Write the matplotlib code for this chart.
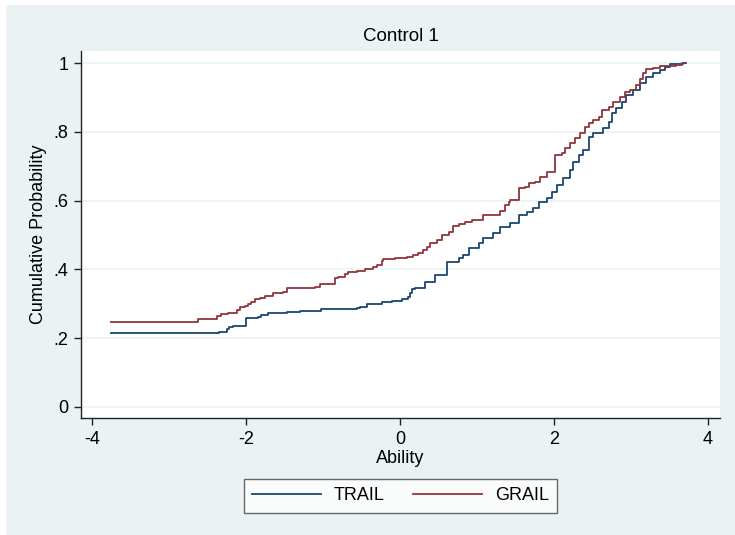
import matplotlib
matplotlib.use("Agg")
import matplotlib.pyplot as plt
from matplotlib.patches import Rectangle

plt.rcParams['font.family'] = ['Liberation Sans', 'DejaVu Sans']

title = "Control 1"
xlabel = "Ability"
ylabel = "Cumulative Probability"
xticks = [-4, -2, 0, 2, 4]
yticks = [0, 0.2, 0.4, 0.6, 0.8, 1.0]
ytick_labels = ["0", ".2", ".4", ".6", ".8", "1"]

trail_x = [-3.75, -2.35, -2.25, -2.22, -2.17, -2.00, -1.84, -1.80, -1.71, -1.47, -1.30,
           -1.02, -0.56, -0.52, -0.43, -0.24, -0.11, 0.02, 0.11, 0.13, 0.16, 0.19,
           0.32, 0.45, 0.61, 0.76, 0.82, 0.89, 1.02, 1.08, 1.21, 1.30, 1.43, 1.54,
           1.65, 1.73, 1.80, 1.91, 1.97, 2.04, 2.12, 2.21, 2.25, 2.32, 2.38, 2.45,
           2.51, 2.64, 2.71, 2.75, 2.81, 2.88, 2.94, 3.03, 3.12, 3.20, 3.29, 3.38,
           3.44, 3.51, 3.68, 3.71]
trail_y = [0.215, 0.219, 0.226, 0.233, 0.235, 0.258, 0.262, 0.267, 0.272, 0.277, 0.280,
           0.284, 0.289, 0.292, 0.299, 0.304, 0.308, 0.313, 0.319, 0.331, 0.342, 0.345,
           0.364, 0.384, 0.422, 0.432, 0.442, 0.461, 0.476, 0.490, 0.505, 0.524, 0.534, 0.558,
           0.568, 0.578, 0.597, 0.607, 0.626, 0.645, 0.665, 0.689, 0.713, 0.733, 0.747, 0.786,
           0.796, 0.810, 0.829, 0.854, 0.868, 0.887, 0.907, 0.922, 0.941, 0.960, 0.970, 0.980,
           0.989, 0.996, 1.000, 1.000]

grail_x = [-3.75, -2.62, -2.38, -2.32, -2.23, -2.12, -2.08, -2.01, -1.97, -1.93, -1.88,
           -1.82, -1.75, -1.65, -1.52, -1.47, -1.10, -1.04, -0.84, -0.80, -0.71, -0.67,
           -0.56, -0.45, -0.35, -0.30, -0.24, -0.22, -0.06, 0.09, 0.17, 0.24, 0.30, 0.35,
           0.39, 0.48, 0.54, 0.63, 0.69, 0.76, 0.84, 0.93, 1.08, 1.30, 1.36, 1.41, 1.43,
           1.54, 1.62, 1.67, 1.75, 1.82, 1.91, 2.01, 2.10, 2.14, 2.21, 2.27, 2.34, 2.40,
           2.45, 2.51, 2.58, 2.62, 2.71, 2.77, 2.86, 2.92, 2.99, 3.07, 3.12, 3.16, 3.20,
           3.29, 3.38, 3.59, 3.66, 3.69]
grail_y = [0.248, 0.256, 0.265, 0.270, 0.274, 0.282, 0.292, 0.294, 0.299, 0.305, 0.313,
           0.318, 0.323, 0.331, 0.335, 0.345, 0.350, 0.357, 0.374, 0.379, 0.386, 0.392,
           0.395, 0.401, 0.406, 0.413, 0.425, 0.429, 0.432, 0.437, 0.442, 0.447, 0.456, 0.466,
           0.476, 0.485, 0.500, 0.510, 0.527, 0.532, 0.537, 0.544, 0.558, 0.570, 0.587, 0.597, 0.602,
           0.636, 0.640, 0.650, 0.655, 0.669, 0.684, 0.733, 0.738, 0.752, 0.767, 0.781, 0.796, 0.815,
           0.825, 0.834, 0.844, 0.863, 0.873, 0.888, 0.902, 0.915, 0.922, 0.936, 0.955, 0.970, 0.983,
           0.986, 0.991, 0.994, 1.000, 1.000]

BG = "#EAF2F3"
fig = plt.figure(figsize=(7.35, 5.35), dpi=100, facecolor="white")
fig.patches.append(Rectangle((6/735, 0), 1 - 6/735, 1 - 5/535, transform=fig.transFigure,
                             facecolor=BG, edgecolor="none", zorder=-10))

ax = fig.add_axes([81/735, 1 - 418/535, (720 - 81)/735, (418 - 51)/535])
ax.set_facecolor("white")

ax.step(trail_x, trail_y, where="post", color="#1a476f", lw=1.3, label="TRAIL", zorder=3)
ax.step(grail_x, grail_y, where="post", color="#90353b", lw=1.3, label="GRAIL", zorder=3)

ax.set_xlim(-4.143, 4.156)
ax.set_ylim(-0.032, 1.035)
ax.set_xticks(xticks)
ax.set_xticklabels([str(v) for v in xticks])
ax.set_yticks(yticks)
ax.set_yticklabels(ytick_labels)
for y in yticks:
    ax.axhline(y, color=BG, lw=1.2, zorder=1)

for s in ["top", "right"]:
    ax.spines[s].set_visible(False)
for s in ["left", "bottom"]:
    ax.spines[s].set_color("#222222")
    ax.spines[s].set_linewidth(1.0)

ax.tick_params(axis="both", direction="out", length=5, width=1.0, color="#222222",
               labelsize=13, labelcolor="black", pad=4)

ax.set_title(title, fontsize=13.5, pad=7)
ax.set_xlabel(xlabel, fontsize=13, labelpad=2)
ax.set_ylabel(ylabel, fontsize=13, labelpad=5)

leg = fig.legend(loc="center", bbox_to_anchor=(400.5/735, 1 - 496/535), ncol=2,
                 fontsize=13, frameon=True, fancybox=False, handlelength=3.8,
                 handletextpad=0.7, columnspacing=1.6, borderpad=0.45)
leg.get_frame().set_edgecolor("#444444")
leg.get_frame().set_linewidth(1.0)
leg.get_frame().set_facecolor("white")

fig.savefig("out.png", dpi=100, facecolor=fig.get_facecolor())
